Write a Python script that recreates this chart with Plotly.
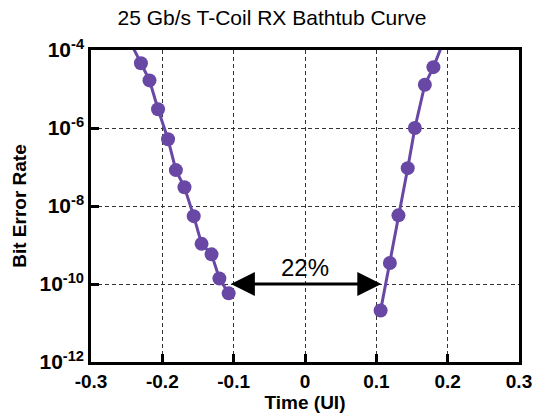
import plotly.graph_objects as go

# Left edge of bathtub (time in UI, log10 BER)
left_time = [-0.2475, -0.230, -0.218, -0.206, -0.192, -0.181, -0.169, -0.156, -0.145, -0.131, -0.120, -0.107]
left_log_ber = [-3.70, -4.34, -4.78, -5.52, -6.29, -7.08, -7.52, -8.26, -8.97, -9.24, -9.86, -10.24]

# Right edge of bathtub
right_time = [0.106, 0.119, 0.131, 0.144, 0.154, 0.168, 0.180, 0.196]
right_log_ber = [-10.68, -9.46, -8.24, -7.03, -6.00, -4.89, -4.44, -3.70]

x_ticks = [-0.3, -0.2, -0.1, 0, 0.1, 0.2, 0.3]
x_tick_text = ["-0.3", "-0.2", "-0.1", "0", "0.1", "0.2", "0.3"]
y_exponents = [-12, -10, -8, -6, -4]

title_text = "25 Gb/s T-Coil RX Bathtub Curve"
eye_opening_label = "22%"

PURPLE = "#6848a4"
FONT = "Liberation Sans, Arial, Helvetica, sans-serif"

fig = go.Figure()
for xs, ls in [(left_time, left_log_ber), (right_time, right_log_ber)]:
    fig.add_trace(go.Scatter(
        x=xs, y=[10 ** v for v in ls], mode="lines+markers",
        line=dict(color=PURPLE, width=3),
        marker=dict(color=PURPLE, size=14, line=dict(width=0)),
        showlegend=False, cliponaxis=True,
    ))

axis_common = dict(
    showline=True, linecolor="black", linewidth=2.5, mirror=True,
    ticks="inside", ticklen=8, tickwidth=2.5, tickcolor="black",
    showgrid=True, gridcolor="#333333", gridwidth=1, griddash="4px,3px",
    zeroline=False,
)

fig.update_xaxes(
    range=[-0.3, 0.3], tickvals=x_ticks, ticktext=x_tick_text,
    tickfont=dict(family=FONT, size=19, color="black", weight="bold"),
    title=dict(text="Time (UI)", font=dict(family=FONT, size=19, color="black", weight="bold"), standoff=2),
    **axis_common,
)
fig.update_yaxes(
    type="log", range=[-12, -4],
    tickvals=[10 ** e for e in y_exponents],
    ticktext=[f"10<sup>{e}</sup>" for e in y_exponents],
    tickfont=dict(family=FONT, size=21, color="black", weight="bold"),
    title=dict(text="Bit Error Rate", font=dict(family=FONT, size=19, color="black", weight="bold"), standoff=8),
    **axis_common,
)

# Double-headed arrow marking eye opening at BER 1e-10
fig.add_annotation(
    x=0.107, y=-10, ax=-0.106, ay=-10,
    xref="x", yref="y", axref="x", ayref="y",
    text="", showarrow=True, arrowhead=2, arrowside="end+start",
    arrowsize=1.6, arrowwidth=3, arrowcolor="black", standoff=0, startstandoff=0,
)
fig.add_annotation(
    x=0.0, y=-9.58, xref="x", yref="y", text=eye_opening_label, showarrow=False,
    font=dict(family=FONT, size=24, color="black"),
)

fig.update_layout(
    width=544, height=419,
    margin=dict(l=91, r=14, t=50, b=53),
    paper_bgcolor="white", plot_bgcolor="white",
    title=dict(text=title_text, x=0.5, xanchor="center", y=0.958, yanchor="middle",
               font=dict(family=FONT, size=21, color="black")),
)

fig.write_html("out.html")
